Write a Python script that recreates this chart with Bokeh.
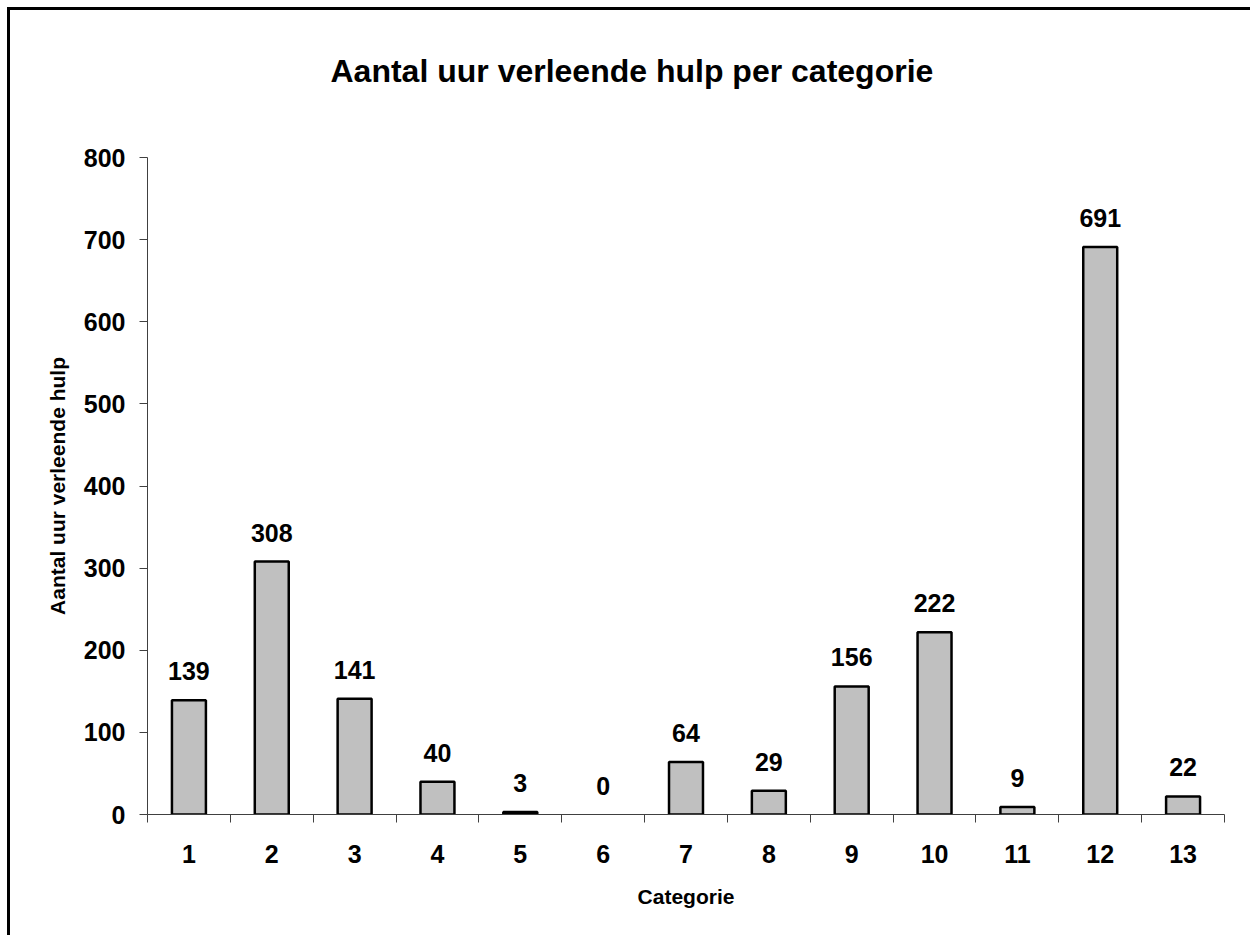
from bokeh.plotting import figure
from bokeh.models import ColumnDataSource, FixedTicker, Range1d, Title, CustomJSTickFormatter
from bokeh.core.properties import value
from bokeh.embed import file_html
from bokeh.resources import INLINE

categories = ["1", "2", "3", "4", "5", "6", "7", "8", "9", "10", "11", "12", "13"]
hours = [139, 308, 141, 40, 3, 0, 64, 29, 156, 222, 9, 691, 22]
y_ticks = [0, 100, 200, 300, 400, 500, 600, 700, 800]
title_text = "Aantal uur verleende hulp per categorie"

FONT = "Liberation Sans"

xs = list(range(1, len(categories) + 1))
line_colors = ["black" if v > 0 else None for v in hours]
src = ColumnDataSource(dict(x=xs, top=hours, label=[str(v) for v in hours], lc=line_colors))

p = figure(width=1243, height=928, output_backend="svg", toolbar_location=None,
           x_range=Range1d(0.5, len(categories) + 0.5), y_range=Range1d(0, 800),
           min_border_left=137, min_border_right=29, min_border_top=147, min_border_bottom=124)
p.styles = {"border-left": "3px solid black", "border-top": "3px solid black",
            "margin-left": "7px", "margin-top": "7px"}

p.vbar(x="x", top="top", bottom=0, width=0.41, source=src,
       fill_color="#C0C0C0", line_color="lc", line_width=2.5)

p.text(x="x", y="top", text="label", source=src, text_align="center",
       text_baseline="alphabetic", y_offset=-29,
       text_font=value(FONT), text_font_style="bold", text_font_size="25px", text_color="black")

# spacer between the frame and the title (added first, so it sits nearest the frame)
spacer = Title(text=" ", text_font_size="1px", standoff=66)
p.add_layout(spacer, "above")

t = Title(text=title_text, align="left",
          text_font=FONT, text_font_style="bold", text_font_size="32px", text_color="black",
          offset=183, standoff=0)
p.add_layout(t, "above")

p.grid.visible = False
p.outline_line_color = None
p.background_fill_color = "white"
p.border_fill_color = "white"

xa = p.xaxis[0]
labels_js = "const c = %s; return c[Math.round(tick)-1] || '';" % str(categories)
xa.ticker = FixedTicker(ticks=xs, minor_ticks=[x - 0.5 for x in xs] + [len(xs) + 0.5])
xa.formatter = CustomJSTickFormatter(code=labels_js)
xa.major_tick_out = 0
xa.major_tick_in = 0
xa.minor_tick_out = 8
xa.minor_tick_in = 0
xa.minor_tick_line_color = "#404040"
xa.axis_line_color = "#404040"
xa.major_label_standoff = 22
xa.major_label_text_font = FONT
xa.major_label_text_font_style = "bold"
xa.major_label_text_font_size = "25px"
xa.major_label_text_color = "black"
xa.axis_label = "Categorie"
xa.axis_label_text_font = FONT
xa.axis_label_text_font_style = "bold"
xa.axis_label_text_font_size = "21px"
xa.axis_label_text_color = "black"
xa.axis_label_standoff = 19

ya = p.yaxis[0]
ya.ticker = FixedTicker(ticks=y_ticks)
ya.major_tick_out = 8
ya.major_tick_in = 0
ya.minor_tick_out = 0
ya.minor_tick_in = 0
ya.major_tick_line_color = "#404040"
ya.axis_line_color = "#404040"
ya.major_label_standoff = 14
ya.major_label_text_font = FONT
ya.major_label_text_font_style = "bold"
ya.major_label_text_font_size = "25px"
ya.major_label_text_color = "black"
ya.axis_label = "Aantal uur verleende hulp"
ya.axis_label_text_font = FONT
ya.axis_label_text_font_style = "bold"
ya.axis_label_text_font_size = "21px"
ya.axis_label_text_color = "black"
ya.axis_label_standoff = 12

open("out.html", "w").write(file_html(p, INLINE))
